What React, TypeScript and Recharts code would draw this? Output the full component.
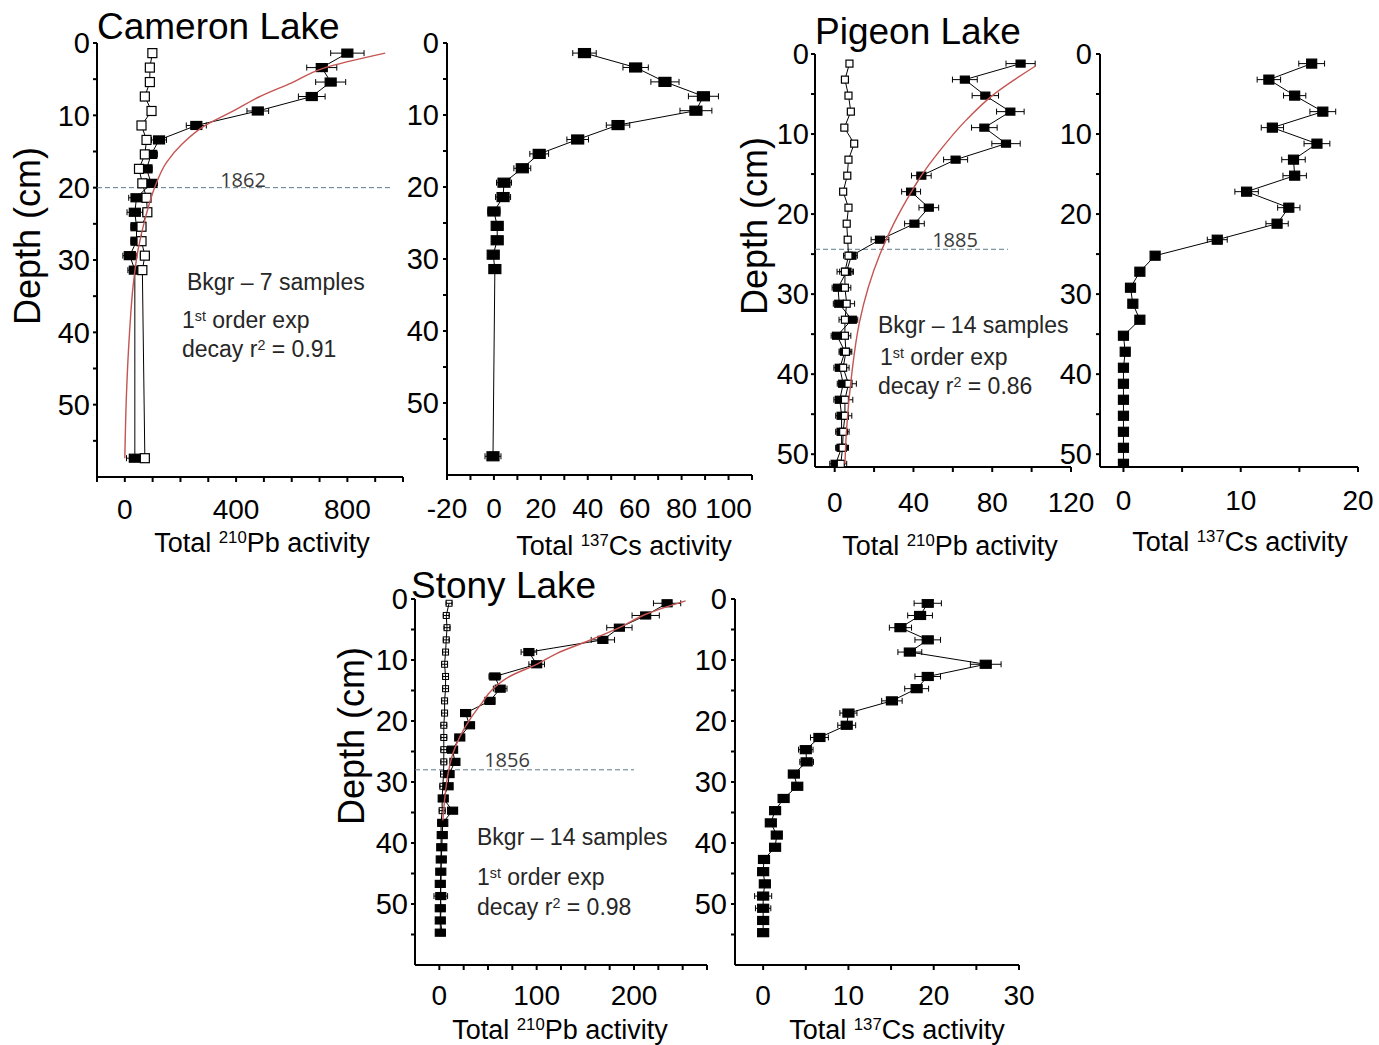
import React from "react";
import { ScatterChart, Scatter, XAxis, YAxis, ErrorBar } from "recharts";

const FONT = '"Liberation Sans", Arial, Helvetica, sans-serif';
const YEAR_FONT = '"Open Sans", "Liberation Sans", sans-serif';
const RED = "#c45552";
const DASH = "#5b7c8c";

// ---------------- Cameron Lake ----------------
const cameronDepth = [1.4, 3.4, 5.4, 7.4, 9.4, 11.4, 13.4, 15.4, 17.4, 19.4, 21.4, 23.4, 25.4, 27.4, 29.4, 31.4, 57.4];
const cameronPbTotal = [800, 708, 740, 672, 478, 257, 123, 95, 78, 95, 42, 36, 42, 42, 18, 36, 36];
const cameronPbTotalErr = [60, 54, 54, 48, 39, 36, 27, 22, 20, 22, 28, 28, 20, 20, 25, 25, 30];
const cameronPbBkgr = [99, 90, 90, 72, 96, 60, 78, 72, 51, 63, 78, 81, 60, 60, 72, 63, 72];
const cameronPbBkgrErr = [10, 10, 10, 10, 10, 10, 10, 12, 12, 12, 12, 14, 12, 12, 16, 12, 14];
const cameronCs = [38.6, 60.4, 72.9, 89.3, 86.1, 52.9, 35.7, 19.3, 12.1, 4.3, 3.9, 0.0, 1.4, 1.4, -0.3, 0.4, -0.4];
const cameronCsErr = [5, 5.4, 6, 6.4, 6.8, 5, 4.6, 4, 3.6, 3.2, 3.2, 2.6, 1.5, 1.5, 1.5, 1.5, 3.4];
const cameronFitDepth = [1.4, 3.5, 5.5, 7.5, 9.5, 11.5, 14, 16.5, 20, 24, 28.5, 33.5, 40, 48.5, 57.4];
const cameronFitPb = [936, 713, 600, 480, 385, 285, 205, 150, 107, 75, 48, 30, 17, 6, 0];
const cameronDateDepth = [20, 20];
const cameronDateX = [-100, 960];

// ---------------- Pigeon Lake ----------------
const pigeonDepth = [1.2, 3.2, 5.2, 7.2, 9.2, 11.2, 13.2, 15.2, 17.2, 19.2, 21.2, 23.2, 25.2, 27.2, 29.2, 31.2, 33.2, 35.2, 37.2, 39.2, 41.2, 43.2, 45.2, 47.2, 49.2, 51.2];
const pigeonPbTotal = [94.4, 66.1, 76.5, 89.2, 76.0, 87.0, 61.4, 44.0, 38.8, 47.8, 40.5, 23.0, 8.5, 6.0, 1.7, 2.3, 8.7, 1.2, 5.2, 2.6, 4.3, 2.6, 3.5, 3.5, 3.5, 0.5];
const pigeonPbTotalErr = [7.4, 6.3, 6.7, 7.0, 6.5, 7.2, 6.1, 5.0, 4.8, 5.0, 5.0, 4.5, 3.0, 3.5, 3.0, 3.0, 3.0, 3.0, 3.0, 3.0, 3.0, 3.0, 3.0, 3.0, 3.0, 3.0];
const pigeonPbBkgr = [7.5, 5.2, 7.0, 8.2, 4.9, 9.9, 7.0, 6.4, 4.3, 7.0, 6.1, 6.6, 7.0, 5.2, 5.2, 6.1, 5.2, 5.2, 5.7, 4.3, 7.0, 5.2, 5.2, 4.3, 4.0, 3.1];
const pigeonPbBkgrErr = [1.5, 1.5, 1.5, 1.5, 1.5, 1.5, 1.5, 1.5, 1.5, 1.5, 1.5, 1.5, 2.5, 4, 3, 4, 3, 3, 3, 3, 4, 4, 3.5, 3, 3, 3];
const pigeonCs = [16.05, 12.4, 14.6, 17.0, 12.7, 16.5, 14.5, 14.6, 10.5, 14.1, 13.1, 8.0, 2.7, 1.4, 0.6, 0.8, 1.4, 0.0, 0.15, 0.0, 0.0, 0.0, 0.0, 0.0, 0.0, 0.0];
const pigeonCsErr = [1.1, 1.0, 0.95, 1.1, 0.95, 1.1, 1.0, 1.0, 1.0, 0.95, 0.95, 0.85, 0.3, 0.3, 0.3, 0.3, 0.3, 0.3, 0.3, 0.3, 0.3, 0.3, 0.3, 0.3, 0.3, 0.3];
const pigeonFitDepth = [1.5, 5.2, 8.2, 12.2, 15.2, 17.2, 21.2, 24.7, 29.2, 33.6, 39.9, 47, 51.2];
const pigeonFitPb = [102, 80, 67, 53, 44, 39, 30, 23.5, 17, 12.5, 8.7, 6, 5.2];
const pigeonDateDepth = [24.4, 24.4];
const pigeonDateX = [-10, 88];

// ---------------- Stony Lake ----------------
const stonyDepth = [0.7, 2.7, 4.7, 6.7, 8.7, 10.7, 12.7, 14.7, 16.7, 18.7, 20.7, 22.7, 24.7, 26.7, 28.7, 30.7, 32.7, 34.7, 36.7, 38.7, 40.7, 42.7, 44.7, 46.7, 48.7, 50.7, 52.7, 54.7];
const stonyPbTotal = [234, 212, 185, 168, 92, 100, 57, 62.5, 52, 27, 31, 21, 13.6, 16, 10, 9, 4, 13.6, 3.5, 3, 2.5, 2, 1.5, 1, 1.5, 1, 1, 1];
const stonyPbTotalErr = [14, 14, 13, 12, 8, 8, 6, 7, 5, 5, 5, 4.5, 4, 4, 4, 4, 3.5, 3.5, 3, 3, 3, 3, 3, 3, 7, 3, 3, 3];
const stonyPbBkgr = [10, 7.1, 7.9, 7.1, 6.4, 5.4, 6.4, 6.4, 5.4, 5.4, 4.6, 4.6, 4.6, 4.6, 4.3, 3.6, 2.9, 2.9, 1.8, 1.8, 1.8, 1.8, 1.8, 1.8, 1.1, 1.8, 1.1, 2.9];
const stonyPbBkgrErr = [3, 3, 3, 3, 3, 3, 3, 3, 3, 3, 3, 3, 3, 3, 3, 3, 3, 3, 3, 3, 3, 3, 3, 3, 3, 4, 3, 3];
const stonyCs = [19.3, 18.4, 16.1, 19.3, 17.2, 26.1, 19.3, 18.0, 15.1, 10.0, 9.8, 6.6, 5.0, 5.1, 3.6, 4.0, 2.4, 1.4, 0.9, 1.6, 1.4, 0.1, 0.0, 0.2, 0.0, 0.0, 0.0, 0.0];
const stonyCsErr = [1.6, 1.45, 1.3, 1.5, 1.4, 1.8, 1.5, 1.4, 1.2, 1.0, 1.05, 1.05, 0.85, 0.8, 0.6, 0.6, 0.5, 0.5, 0.5, 0.5, 0.5, 0.3, 0.3, 0.3, 1.0, 0.9, 0.3, 0.3];
const stonyFitDepth = [0.3, 2.5, 4.7, 6.8, 8.9, 10.7, 12.8, 14.9, 17.2, 19.6, 22.6, 25.3, 28.6, 33, 36.3];
const stonyFitPb = [253, 212, 185, 154, 121, 100, 71, 54, 43, 32, 21, 14, 9, 5.4, 3.6];
const stonyDateDepth = [28, 28];
const stonyDateX = [-25, 200];

// ---------------- axis ticks ----------------
const cameronPbTicks = [-100, 0, 100, 200, 300, 400, 500, 600, 700, 800, 900, 1000];
const cameronPbLabels = [0, 400, 800];
const cameronCsTicks = [-20, -10, 0, 10, 20, 30, 40, 50, 60, 70, 80, 90, 100, 110];
const cameronCsLabels = [-20, 0, 20, 40, 60, 80, 100];
const pigeonPbTicks = [0, 20, 40, 60, 80, 100, 120];
const pigeonPbLabels = [0, 40, 80, 120];
const pigeonCsTicks = [0, 5, 10, 15, 20];
const pigeonCsLabels = [0, 10, 20];
const stonyPbTicks = [0, 25, 50, 75, 100, 125, 150, 175, 200, 225, 250, 275];
const stonyPbLabels = [0, 100, 200];
const stonyCsTicks = [0, 5, 10, 15, 20, 25, 30];
const stonyCsLabels = [0, 10, 20, 30];
const depthTicks60 = [0, 5, 10, 15, 20, 25, 30, 35, 40, 45, 50, 55];
const depthTicks51 = [0, 5, 10, 15, 20, 25, 30, 35, 40, 45, 50];
const depthLabels = [0, 10, 20, 30, 40, 50];

type Pt = { d: number; v: number; e: number };
const zip = (depth: number[], val: number[], err?: number[]): Pt[] =>
  depth.map((d, i) => ({ d, v: val[i], e: err ? err[i] : 0 }));

function rectShape(w: number, h: number, fill: string, sw = 1.2) {
  return (p: any) => {
    if (!p || p.cx == null || p.cy == null) return <g />;
    return (
      <rect x={p.cx - w / 2} y={p.cy - h / 2} width={w} height={h} fill={fill} stroke="#000" strokeWidth={sw} />
    );
  };
}
const noShape = () => <g />;

type Box = { left: number; right: number; top: number; bottom: number };

function Panel(props: {
  box: Box;
  xDomain: [number, number];
  xTicks: number[];
  xLabels: number[];
  yDomain: [number, number];
  yTicks: number[];
  xGap: number;
  yGap: number;
  xFont: number;
  yFont: number;
  children?: React.ReactNode;
}) {
  const { box, xDomain, xTicks, xLabels, yDomain, yTicks, xGap, yGap, xFont, yFont, children } = props;
  const ML = 80, MR = 30, MT = 40, MB = 60;
  const w = box.right - box.left + ML + MR;
  const h = box.bottom - box.top + MT + MB;
  return (
    <div style={{ position: "absolute", left: box.left - ML, top: box.top - MT }}>
      <ScatterChart width={w} height={h} margin={{ top: MT, right: MR, bottom: 0, left: 0 }}>
        <XAxis
          type="number"
          dataKey="v"
          domain={xDomain}
          ticks={xTicks}
          interval={0}
          allowDataOverflow
          height={MB}
          tickFormatter={(t: number) => (xLabels.includes(t) ? String(t) : "")}
          tick={{ fill: "#000", fontSize: xFont, fontFamily: FONT }}
          tickSize={5}
          tickMargin={xGap}
          axisLine={{ stroke: "#000", strokeWidth: 2 }}
          tickLine={{ stroke: "#000", strokeWidth: 2 }}
        />
        <YAxis
          type="number"
          dataKey="d"
          domain={yDomain}
          reversed
          ticks={yTicks}
          interval={0}
          allowDataOverflow
          width={ML}
          tickFormatter={(t: number) => (depthLabels.includes(t) ? String(t) : "")}
          tick={{ fill: "#000", fontSize: yFont, fontFamily: FONT }}
          tickSize={4}
          tickMargin={yGap}
          axisLine={{ stroke: "#000", strokeWidth: 2 }}
          tickLine={{ stroke: "#000", strokeWidth: 2 }}
        />
        {children}
      </ScatterChart>
    </div>
  );
}

function Txt(props: {
  x: number;
  y: number;
  size: number;
  center?: boolean;
  family?: string;
  color?: string;
  children: React.ReactNode;
}) {
  const { x, y, size, center, family = FONT, color = "#000", children } = props;
  return (
    <div
      style={{
        position: "absolute",
        left: x,
        top: y - size * 0.59,
        fontSize: size,
        lineHeight: `${size * 1.2}px`,
        fontFamily: family,
        color,
        whiteSpace: "nowrap",
        transform: center ? "translateX(-50%)" : undefined,
      }}
    >
      {children}
    </div>
  );
}

function VTxt(props: { x: number; y: number; size: number; children: React.ReactNode }) {
  const { x, y, size, children } = props;
  return (
    <div
      style={{
        position: "absolute",
        left: x,
        top: y,
        fontSize: size,
        lineHeight: `${size * 1.2}px`,
        fontFamily: FONT,
        color: "#000",
        whiteSpace: "nowrap",
        transform: "translate(-50%, -50%) rotate(-90deg)",
      }}
    >
      {children}
    </div>
  );
}

const Sup = ({ children }: { children: React.ReactNode }) => (
  <span style={{ fontSize: "0.62em", position: "relative", top: "-0.55em" }}>{children}</span>
);

function dashedSeries(depth: number[], xs: number[]) {
  return (
    <Scatter
      data={depth.map((d, i) => ({ d, v: xs[i], e: 0 }))}
      shape={noShape}
      line={{ stroke: DASH, strokeWidth: 1, strokeDasharray: "5 3" }}
      isAnimationActive={false}
    />
  );
}

export default function App() {
  const lineBlack = { stroke: "#000", strokeWidth: 1 };
  const redLine = { stroke: RED, strokeWidth: 1.4 };
  return (
    <div style={{ position: "absolute", left: 0, top: 0, width: 1379, height: 1045, background: "#fff", overflow: "hidden" }}>
      {/* Cameron Pb */}
      <Panel
        box={{ left: 97, right: 403, top: 43, bottom: 477 }}
        xDomain={[-100, 1000]}
        xTicks={cameronPbTicks}
        xLabels={cameronPbLabels}
        yDomain={[0, 60]}
        yTicks={depthTicks60}
        xGap={17}
        yGap={3}
        xFont={28}
        yFont={29}
      >
        {dashedSeries(cameronDateDepth, cameronDateX)}
        <Scatter data={zip(cameronDepth, cameronPbTotal, cameronPbTotalErr)} shape={rectShape(11, 8, "#000")} line={lineBlack} isAnimationActive={false}>
          <ErrorBar dataKey="e" direction="x" width={3} stroke="#000" strokeWidth={1} />
        </Scatter>
        <Scatter data={zip(cameronDepth, cameronPbBkgr, cameronPbBkgrErr)} shape={rectShape(9, 9, "#fff")} line={lineBlack} isAnimationActive={false}>
          <ErrorBar dataKey="e" direction="x" width={3} stroke="#000" strokeWidth={1} />
        </Scatter>
        <Scatter data={zip(cameronFitDepth, cameronFitPb)} shape={noShape} line={redLine} lineJointType="monotoneY" isAnimationActive={false} />
      </Panel>

      {/* Cameron Cs */}
      <Panel
        box={{ left: 447, right: 752, top: 43, bottom: 475 }}
        xDomain={[-20, 110]}
        xTicks={cameronCsTicks}
        xLabels={cameronCsLabels}
        yDomain={[0, 60]}
        yTicks={depthTicks60}
        xGap={18}
        yGap={4}
        xFont={28}
        yFont={29}
      >
        <Scatter data={zip(cameronDepth, cameronCs, cameronCsErr)} shape={rectShape(12, 9, "#000")} line={lineBlack} isAnimationActive={false}>
          <ErrorBar dataKey="e" direction="x" width={3} stroke="#000" strokeWidth={1} />
        </Scatter>
      </Panel>

      {/* Pigeon Pb */}
      <Panel
        box={{ left: 815, right: 1071, top: 54, bottom: 467 }}
        xDomain={[-10, 120]}
        xTicks={pigeonPbTicks}
        xLabels={pigeonPbLabels}
        yDomain={[0, 51.6]}
        yTicks={depthTicks51}
        xGap={20}
        yGap={2}
        xFont={28}
        yFont={29}
      >
        {dashedSeries(pigeonDateDepth, pigeonDateX)}
        <Scatter data={zip(pigeonDepth, pigeonPbTotal, pigeonPbTotalErr)} shape={rectShape(9, 7, "#000")} line={lineBlack} isAnimationActive={false}>
          <ErrorBar dataKey="e" direction="x" width={3} stroke="#000" strokeWidth={1} />
        </Scatter>
        <Scatter data={zip(pigeonDepth, pigeonPbBkgr, pigeonPbBkgrErr)} shape={rectShape(7, 7, "#fff")} line={lineBlack} isAnimationActive={false}>
          <ErrorBar dataKey="e" direction="x" width={3} stroke="#000" strokeWidth={1} />
        </Scatter>
        <Scatter data={zip(pigeonFitDepth, pigeonFitPb)} shape={noShape} line={redLine} lineJointType="monotoneY" isAnimationActive={false} />
      </Panel>

      {/* Pigeon Cs */}
      <Panel
        box={{ left: 1100, right: 1358, top: 54, bottom: 467 }}
        xDomain={[-2, 20]}
        xTicks={pigeonCsTicks}
        xLabels={pigeonCsLabels}
        yDomain={[0, 51.6]}
        yTicks={depthTicks51}
        xGap={18}
        yGap={4}
        xFont={28}
        yFont={29}
      >
        <Scatter data={zip(pigeonDepth, pigeonCs, pigeonCsErr)} shape={rectShape(10, 9, "#000")} line={lineBlack} isAnimationActive={false}>
          <ErrorBar dataKey="e" direction="x" width={3} stroke="#000" strokeWidth={1} />
        </Scatter>
      </Panel>

      {/* Stony Pb */}
      <Panel
        box={{ left: 415, right: 707, top: 599, bottom: 965 }}
        xDomain={[-25, 275]}
        xTicks={stonyPbTicks}
        xLabels={stonyPbLabels}
        yDomain={[0, 60]}
        yTicks={depthTicks60}
        xGap={15}
        yGap={3}
        xFont={28}
        yFont={29}
      >
        {dashedSeries(stonyDateDepth, stonyDateX)}
        <Scatter data={zip(stonyDepth, stonyPbTotal, stonyPbTotalErr)} shape={rectShape(10, 7, "#000")} line={lineBlack} isAnimationActive={false}>
          <ErrorBar dataKey="e" direction="x" width={3} stroke="#000" strokeWidth={1} />
        </Scatter>
        <Scatter data={zip(stonyDepth, stonyPbBkgr, stonyPbBkgrErr)} shape={rectShape(6, 6, "none", 1)} line={lineBlack} isAnimationActive={false}>
          <ErrorBar dataKey="e" direction="x" width={2} stroke="#000" strokeWidth={1} />
        </Scatter>
        <Scatter data={zip(stonyFitDepth, stonyFitPb)} shape={noShape} line={redLine} lineJointType="monotoneY" isAnimationActive={false} />
      </Panel>

      {/* Stony Cs */}
      <Panel
        box={{ left: 735, right: 1019, top: 599, bottom: 965 }}
        xDomain={[-3.3, 30]}
        xTicks={stonyCsTicks}
        xLabels={stonyCsLabels}
        yDomain={[0, 60]}
        yTicks={depthTicks60}
        xGap={15}
        yGap={4}
        xFont={28}
        yFont={29}
      >
        <Scatter data={zip(stonyDepth, stonyCs, stonyCsErr)} shape={rectShape(11, 8, "#000")} line={lineBlack} isAnimationActive={false}>
          <ErrorBar dataKey="e" direction="x" width={3} stroke="#000" strokeWidth={1} />
        </Scatter>
      </Panel>

      {/* Titles */}
      <Txt x={97} y={27} size={37}>Cameron Lake</Txt>
      <Txt x={815} y={32} size={37}>Pigeon Lake</Txt>
      <Txt x={411} y={586} size={37}>Stony Lake</Txt>

      {/* Depth labels */}
      <VTxt x={28} y={236} size={36}>Depth (cm)</VTxt>
      <VTxt x={755} y={226} size={36}>Depth (cm)</VTxt>
      <VTxt x={352} y={736} size={36}>Depth (cm)</VTxt>

      {/* X axis titles */}
      <Txt x={262} y={543} size={27} center>Total <Sup>210</Sup>Pb activity</Txt>
      <Txt x={624} y={546} size={27} center>Total <Sup>137</Sup>Cs activity</Txt>
      <Txt x={950} y={546} size={27} center>Total <Sup>210</Sup>Pb activity</Txt>
      <Txt x={1240} y={542} size={27} center>Total <Sup>137</Sup>Cs activity</Txt>
      <Txt x={560} y={1030} size={27} center>Total <Sup>210</Sup>Pb activity</Txt>
      <Txt x={897} y={1030} size={27} center>Total <Sup>137</Sup>Cs activity</Txt>

      {/* Cameron annotations */}
      <Txt x={187} y={283} size={23} color="#262626">Bkgr – 7 samples</Txt>
      <Txt x={182} y={321} size={23} color="#262626">1<Sup>st</Sup> order exp</Txt>
      <Txt x={182} y={350} size={23} color="#262626">decay r<Sup>2</Sup> = 0.91</Txt>
      <Txt x={243} y={180} size={20} center family={YEAR_FONT} color="#3a3a3a">1862</Txt>

      {/* Pigeon annotations */}
      <Txt x={878} y={326} size={23} color="#262626">Bkgr – 14 samples</Txt>
      <Txt x={880} y={358} size={23} color="#262626">1<Sup>st</Sup> order exp</Txt>
      <Txt x={878} y={387} size={23} color="#262626">decay r<Sup>2</Sup> = 0.86</Txt>
      <Txt x={955} y={240} size={20} center family={YEAR_FONT} color="#3a3a3a">1885</Txt>

      {/* Stony annotations */}
      <Txt x={477} y={838} size={23} color="#262626">Bkgr – 14 samples</Txt>
      <Txt x={477} y={878} size={23} color="#262626">1<Sup>st</Sup> order exp</Txt>
      <Txt x={477} y={908} size={23} color="#262626">decay r<Sup>2</Sup> = 0.98</Txt>
      <Txt x={507} y={760} size={20} center family={YEAR_FONT} color="#3a3a3a">1856</Txt>
    </div>
  );
}
